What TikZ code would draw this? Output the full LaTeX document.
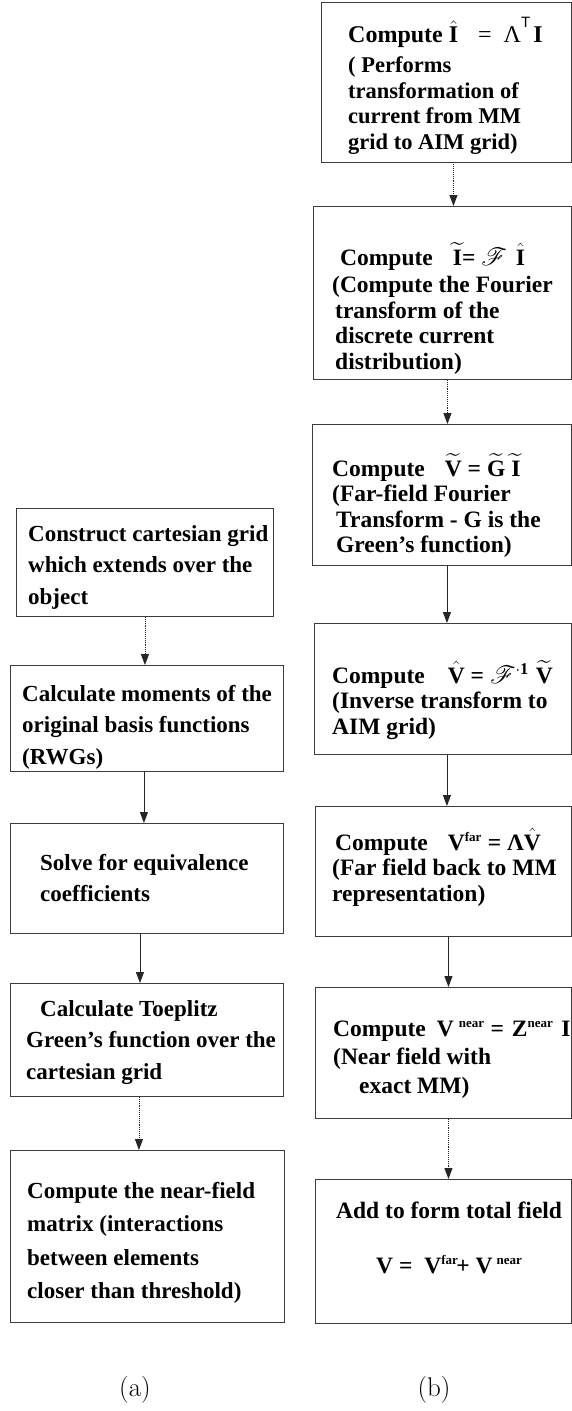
\RequirePackage{fix-cm}
\documentclass[tikz,border=0pt]{standalone}
\usepackage{amsmath}
\usepackage{mathrsfs}
\usepackage{fontspec}
\newfontfamily\tnr{Liberation Serif}
\newfontfamily\tsans{Liberation Sans}
\usepackage{tikz}
\usetikzlibrary{positioning, arrows.meta, calc}

\definecolor{BoxColor}{RGB}{60,60,60}

\newcommand{\fs}{\rule{0pt}{24pt}}
\newcommand{\hatB}[1]{$\hat{\textbf{#1}}$}
\newcommand{\tilB}[1]{$\widetilde{\textbf{#1}}$}
\newcommand{\scF}{$\mathscr{F}$}
\newcommand{\sups}[1]{$^{\text{\fontsize{13}{13}\selectfont\bfseries #1}}$}

\tikzset{
  stagebox/.style={draw=BoxColor, line width=0.9pt, anchor=north west, inner sep=0pt},
  lefttext/.style={anchor=north west, inner sep=0pt, align=left, font=\tnr\bfseries\fontsize{23}{31.5}\selectfont},
  righttext/.style={anchor=north west, inner sep=0pt, align=left, font=\tnr\bfseries\fontsize{23.5}{25.5}\selectfont},
  flow/.style={-{Triangle[width=8pt,length=11pt]}, line width=0.9pt, black!85},
  flowdot/.style={flow, densely dotted},
}

\begin{document}
\begin{tikzpicture}[x=1pt, y=-1pt]
  \useasboundingbox (0,0) rectangle (572,1411);

  % Right column: AIM steps
  \node[stagebox, minimum width=250pt, minimum height=160pt] (aim1) at (321,1.5) {};
  \node[stagebox, minimum width=258pt, minimum height=173pt] (aim2) at (313,206) {};
  \node[stagebox, minimum width=259pt, minimum height=141pt] (aim3) at (312,424) {};
  \node[stagebox, minimum width=257pt, minimum height=131pt] (aim4) at (314,623) {};
  \node[stagebox, minimum width=256pt, minimum height=130pt] (aim5) at (315,806) {};
  \node[stagebox, minimum width=256pt, minimum height=131pt] (aim6) at (315,987) {};
  \node[stagebox, minimum width=256pt, minimum height=144pt] (aim7) at (315,1179) {};

  \node[righttext, font=\tnr\bfseries\fontsize{22.5}{25.5}\selectfont, below right=15.5pt and 27pt of aim1.north west] (aim1txt)
    {{\fontsize{24}{25.5}\selectfont\fs Compute \hatB{I}\hspace{20pt}{\mdseries =}\hspace{12pt}{\mdseries Λ}\raisebox{15pt}{\tsans\mdseries\fontsize{15}{15}\selectfont T}\hspace{3pt}I}\\[4.5pt]
     ( Performs\\ transformation of\\ current from MM\\ grid to AIM grid)};
  \node[righttext, below right=35pt and 19pt of aim2.north west] (aim2txt)
    {\hspace*{8pt}\fs Compute\hspace{20pt}\tilB{I}= \scF\hspace{9pt}\hatB{I}\\[2pt]
     (Compute the Fourier\\ \hspace*{3pt}transform of the\\ \hspace*{3pt}discrete current\\ \hspace*{3pt}distribution)};
  \node[righttext, below right=28pt and 20pt of aim3.north west] (aim3txt)
    {\fs Compute\hspace{20pt}\tilB{V} = \tilB{G}\hspace{6pt}\tilB{I}\\
     (Far-field Fourier\\ \hspace*{4pt}Transform - G is the\\ \hspace*{4pt}Green’s function)};
  \node[righttext, below right=36pt and 18pt of aim4.north west] (aim4txt)
    {\fs Compute\hspace{23pt}\hatB{V} = \scF$^{\cdot\textbf{1}}$\hspace{7pt}\tilB{V}\\
     (Inverse transform to\\ AIM grid)};
  \node[righttext, below right=20pt and 17pt of aim5.north west] (aim5txt)
    {\hspace*{3pt}\fs Compute\hspace{20pt}V\sups{far} = Λ\hatB{V}\\
     (Far field back to MM\\ representation)};
  \node[righttext, below right=25pt and 18pt of aim6.north west] (aim6txt)
    {\fs Compute\hspace{11pt}V\hspace{5pt}\sups{near} =\hspace{8pt}Z\sups{near}\hspace{8pt}I\\[3pt]
     (Near field with\\[3pt] \hspace*{26pt}exact MM)};
  \node[righttext, below right=15pt and 21pt of aim7.north west] (aim7txt)
    {\fs Add to form total field\\[29.5pt]
     \hspace*{40pt}V = \hspace{6pt}V\sups{far}\hspace{-2pt}+ V\hspace{4pt}\sups{near}};

  % Left column: setup steps
  \node[stagebox, minimum width=257pt, minimum height=108pt] (pre1) at (16,508) {};
  \node[stagebox, minimum width=273pt, minimum height=106pt] (pre2) at (10,665) {};
  \node[stagebox, minimum width=273pt, minimum height=110pt] (pre3) at (10,823) {};
  \node[stagebox, minimum width=273pt, minimum height=113pt] (pre4) at (10,983) {};
  \node[stagebox, minimum width=274pt, minimum height=172pt] (pre5) at (10,1150) {};

  \node[lefttext, below right=9pt and 12pt of pre1.north west] (pre1txt)
    {\fs Construct cartesian grid\\ which extends over the\\ object};
  \node[lefttext, below right=12pt and 12pt of pre2.north west] (pre2txt)
    {\fs Calculate moments of the\\ original basis functions\\ (RWGs)};
  \node[lefttext, below right=23pt and 30pt of pre3.north west] (pre3txt)
    {\fs Solve for equivalence\\ coefficients};
  \node[lefttext, below right=9pt and 16pt of pre4.north west] (pre4txt)
    {\hspace*{14pt}\fs Calculate Toeplitz\\ Green’s function over the\\ cartesian grid};
  \node[lefttext, below right=24pt and 17pt of pre5.north west] (pre5txt)
    {\fs Compute the near-field\\[2pt] matrix (interactions\\[2pt] between elements\\[2pt] closer than threshold)};

  % Captions
  \node[font=\fontsize{27}{30}\selectfont] (lbla) at (135,1390) {(a)};
  \node[font=\fontsize{27}{30}\selectfont] (lblb) at (434,1390) {(b)};

  % Flow arrows
  \draw[flowdot] ([xshift=7pt]aim1.south) -- ([xshift=7pt]aim1.south |- aim2.north);
  \draw[flowdot] ([xshift=5pt]aim2.south) -- ([xshift=5pt]aim2.south |- aim3.north);
  \draw[flow] ([xshift=5pt]aim3.south) -- ([xshift=5pt]aim3.south |- aim4.north);
  \draw[flow] ([xshift=4pt]aim4.south) -- ([xshift=4pt]aim4.south |- aim5.north);
  \draw[flow] ([xshift=5pt]aim5.south) -- ([xshift=5pt]aim5.south |- aim6.north);
  \draw[flowdot] ([xshift=5pt]aim6.south) -- ([xshift=5pt]aim6.south |- aim7.north);

  \draw[flowdot] (pre1.south) -- (pre1.south |- pre2.north);
  \draw[flow] ([xshift=-3pt]pre2.south) -- ([xshift=-3pt]pre2.south |- pre3.north);
  \draw[flow] ([xshift=-7pt]pre3.south) -- ([xshift=-7pt]pre3.south |- pre4.north);
  \draw[flowdot] ([xshift=-8pt]pre4.south) -- ([xshift=-8pt]pre4.south |- pre5.north);
\end{tikzpicture}
\end{document}
